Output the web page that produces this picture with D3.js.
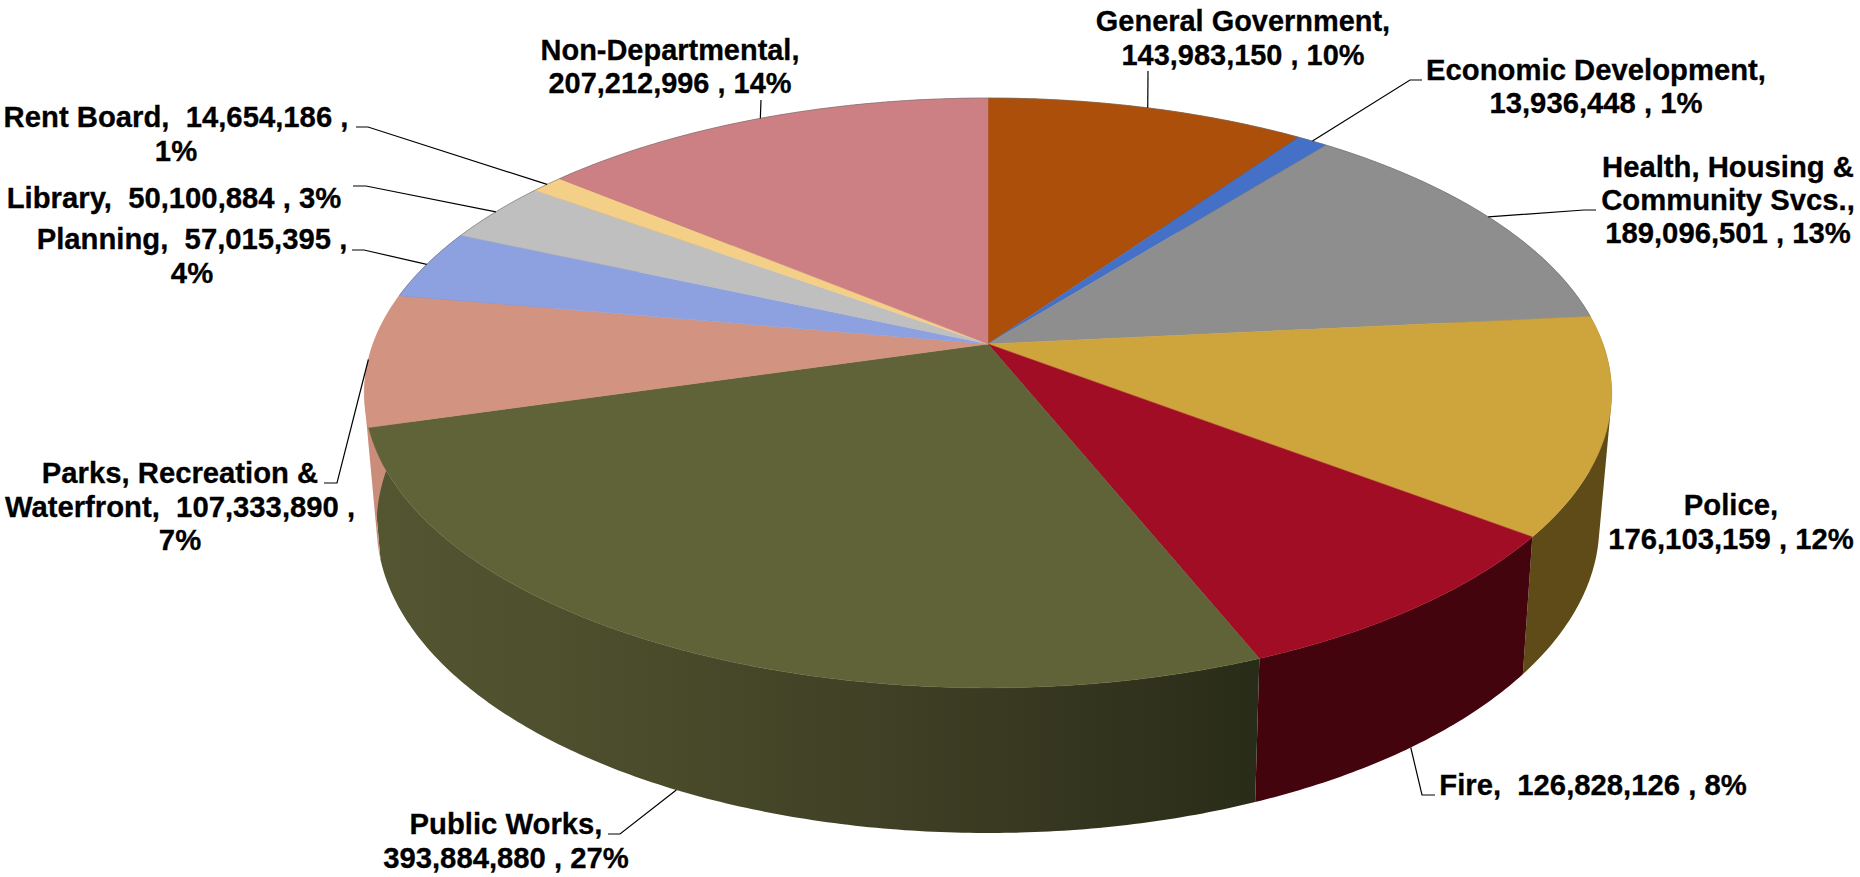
<!DOCTYPE html>
<html>
<head>
<meta charset="utf-8">
<title>General Fund Expenditures by Department</title>
<script src="https://cdnjs.cloudflare.com/ajax/libs/d3/7.8.5/d3.min.js"></script>
<style>
  html, body { margin: 0; padding: 0; background: #fff; }
  svg { display: block; }
  text { font-family: "Liberation Sans", Arial, sans-serif; font-weight: bold; font-size: 30px; fill: #000; stroke: #000; stroke-width: 0.3px; white-space: pre; }
</style>
</head>
<body>
<svg id="chart" width="1860" height="877"></svg>
<script>
// Department budgets, clockwise from twelve o'clock
const departments = ["General Government", "Economic Development", "Health, Housing & Community Svcs.", "Police", "Fire", "Public Works", "Parks, Recreation & Waterfront", "Planning", "Library", "Rent Board", "Non-Departmental"];
const budgets = [143983150, 13936448, 189096501, 176103159, 126828126, 393884880, 107333890, 57015395, 50100884, 14654186, 207212996];

const topColors = ["#AB4F0A", "#4470C8", "#8E8E8E", "#CEA43C", "#A10D24", "#606338", "#D29480", "#8DA1E0", "#BFBFBF", "#F4CF87", "#CC8084"];
const sideColors = ["#6B3206", "#2A4680", "#595959", "#5E4B18", "#43040E", "url(#worksSide)", "#C98D7A", "#58658C", "#777777", "#98815A", "#7F5053"];

const labelLines = [
  ["General Government,", "143,983,150 , 10%"],
  ["Economic Development,", "13,936,448 , 1%"],
  ["Health, Housing &", "Community Svcs.,", "189,096,501 , 13%"],
  ["Police,", "176,103,159 , 12%"],
  ["Fire,  126,828,126 , 8%"],
  ["Public Works,", "393,884,880 , 27%"],
  ["Parks, Recreation &", "Waterfront,  107,333,890 ,", "7%"],
  ["Planning,  57,015,395 ,", "4%"],
  ["Library,  50,100,884 , 3%"],
  ["Rent Board,  14,654,186 ,", "1%"],
  ["Non-Departmental,", "207,212,996 , 14%"]
];

// Label block placement: centre x, first baseline, line step, horizontal squeeze
const labelPlacement = [
  { x: 1243, y: 31, step: 34, squeeze: 0.965 },
  { x: 1596, y: 80, step: 33, squeeze: 0.976 },
  { x: 1728, y: 177, step: 33, squeeze: 0.976 },
  { x: 1731, y: 515, step: 34, squeeze: 0.976 },
  { x: 1593, y: 795, step: 33, squeeze: 0.976 },
  { x: 506, y: 834, step: 34, squeeze: 0.976 },
  { x: 180, y: 483, step: 33.5, squeeze: 0.976 },
  { x: 192, y: 249, step: 34, squeeze: 0.976 },
  { x: 174, y: 208, step: 33, squeeze: 0.976 },
  { x: 176, y: 127, step: 34, squeeze: 0.976 },
  { x: 670, y: 60, step: 33, squeeze: 0.965 }
];

// Leader lines: label-side points, then the rim of the slice at its middle angle
const leaderStart = [
  [[1148, 71]],
  [[1422, 80], [1410, 80]],
  [[1596, 210], [1584, 210]],
  null,
  [[1435, 795], [1422, 795]],
  [[608, 834], [620, 834]],
  [[324, 483], [337, 483]],
  [[352, 250], [364, 250]],
  [[353, 186], [366, 186]],
  [[356, 127], [368, 127]],
  [[761, 100]]
];
const leaderOnBase = [false, false, false, false, true, true, false, false, false, false, false];

// Perspective mapping of the unit disc onto the top face and the base of the cylinder
const faceTop = { cx: 988, cy: 344, a: 615, b: 286.8, k: 0.166 };
const faceBase = { cx: 988, cy: 472.5, a: 602.4, b: 299, k: 0.1706 };

function project(face, angle) {
  const u = Math.sin(angle), v = -Math.cos(angle);
  const w = 1 - face.k * v;
  return [face.cx + face.a * u / w, face.cy + face.b * v / w];
}

function arcPoints(face, start, end) {
  const n = Math.max(2, Math.ceil((end - start) / 0.01));
  return d3.range(n + 1).map(i => project(face, start + (end - start) * i / n));
}

const slices = d3.pie().sort(null).value(d => d)(budgets);
const svg = d3.select("#chart");
const outline = d3.line();

// The wall is swept in narrow strips so the silhouette joins both rims
function wallPath(d) {
  const rimTop = arcPoints(faceTop, d.startAngle, d.endAngle);
  const rimBase = arcPoints(faceBase, d.startAngle, d.endAngle);
  return d3.pairs(d3.range(rimTop.length)).map(([p, q]) =>
    outline(d3.polygonArea([rimTop[p], rimTop[q], rimBase[q], rimBase[p]]) >= 0
      ? [rimTop[p], rimTop[q], rimBase[q], rimBase[p]]
      : [rimBase[p], rimBase[q], rimTop[q], rimTop[p]]) + "Z").join("");
}

const gradient = svg.append("defs").append("linearGradient")
  .attr("id", "worksSide")
  .attr("gradientUnits", "userSpaceOnUse")
  .attr("x1", 380).attr("x2", 1256).attr("y1", 0).attr("y2", 0);
[[0, "#545632"], [0.35, "#484A2A"], [0.7, "#3A3A22"], [1, "#292C18"]].forEach(([o, c]) =>
  gradient.append("stop").attr("offset", o).attr("stop-color", c));

// Outer walls first, the top face covers whatever lies behind it
svg.append("g").selectAll("path").data(slices).join("path")
  .attr("d", wallPath)
  .attr("fill", (d, i) => sideColors[i]);

svg.append("g").selectAll("path").data(slices).join("path")
  .attr("d", d => outline([
    [faceTop.cx, faceTop.cy],
    ...arcPoints(faceTop, d.startAngle, d.endAngle)
  ]) + "Z")
  .attr("fill", (d, i) => topColors[i])
  .attr("stroke", (d, i) => topColors[i])
  .attr("stroke-width", 0.5);

// Thin rim along the far edge of the disc
svg.append("path")
  .attr("d", outline(arcPoints(faceTop, slices[7].startAngle, 2 * Math.PI + slices[2].endAngle)))
  .attr("fill", "none").attr("stroke", "#777").attr("stroke-width", 0.8).attr("stroke-opacity", 0.7);

svg.append("g").selectAll("path").data(slices.filter((d, i) => leaderStart[i])).join("path")
  .attr("d", d => {
    const i = d.index;
    const mid = (d.startAngle + d.endAngle) / 2;
    return outline([...leaderStart[i], project(leaderOnBase[i] ? faceBase : faceTop, mid)]);
  })
  .attr("fill", "none").attr("stroke", "#000").attr("stroke-width", 1.2);

const labels = svg.append("g").selectAll("g").data(labelLines).join("g");
labels.selectAll("text").data((lines, i) => lines.map((t, j) => ({
  t, x: labelPlacement[i].x, y: labelPlacement[i].y + j * labelPlacement[i].step, squeeze: labelPlacement[i].squeeze
}))).join("text")
  .attr("text-anchor", "middle")
  .attr("transform", d => `translate(${d.x},${d.y}) scale(${d.squeeze},1)`)
  .text(d => d.t);
</script>
</body>
</html>
